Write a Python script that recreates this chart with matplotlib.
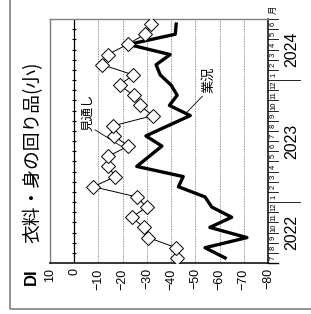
import numpy as np
import matplotlib.pyplot as plt
import matplotlib.transforms as mtransforms
from matplotlib.patches import Rectangle

plt.rcParams['font.family'] = ['Noto Sans CJK JP', 'DejaVu Sans']

# months: Jul 2022 .. Jun 2024
month_labels = ['7', '8', '9', '10', '11', '12',
                '1', '2', '3', '4', '5', '6', '7', '8', '9', '10', '11', '12',
                '1', '2', '3', '4', '5', '6']
years = ['2022', '2023', '2024']
year_spans = [(0, 5), (6, 17), (18, 23)]

# 業況 (business conditions DI)
gyokyo = [-62.3, -54, -71.3, -56, -65, -56.8, -54, -43, -45, -25.8, -31, -36.2,
          -29.6, -38.7, -47.9, -39.3, -42.5, -40, -35.5, -33.8, -39.6, -22.4,
          -41.7, -42.1]
# 見通し (outlook DI)
mitoshi = [-42.6, -42.1, -30.6, -28.8, -23.8, -29.9, -25.8, -7.9, -16.9, -14.1,
           -14.1, -22.3, -16.5, -16.2, -32.5, -27.0, -24.5, -18.7, -24.4, -11.6,
           -13.8, -22.0, -29.2, -31.9]

di_ticks = [10, 0, -10, -20, -30, -40, -50, -60, -70, -80]

W, H = 311, 314
fig = plt.figure(figsize=(W / 100, H / 100), dpi=100)
ax = fig.add_axes([50 / W, 51 / H, 218 / W, 244 / H])

idx = np.arange(len(month_labels))

# outer frame
fig.patches.append(Rectangle((10 / W, 5 / H), 1.2, 1.2, transform=fig.transFigure,
                             fill=False, edgecolor='#808080', lw=1.2))

for v in di_ticks[2:-1]:
    ax.axvline(v, color='#777777', lw=0.6, ls=(0, (1, 1)), zorder=1)
ax.axvline(0, color='black', lw=0.9, zorder=1)
ax.hlines(np.arange(0.5, 23, 1), 0.9, -0.9, color='black', lw=0.8, zorder=1)

ax.plot(gyokyo, idx, color='black', lw=2.4, zorder=3)
ax.plot(mitoshi, idx, color='black', lw=0.7, marker='D', ms=7,
        mfc='white', mec='black', mew=0.7, zorder=4)

ax.set_xlim(10, -80)
ax.set_ylim(-0.5, 23.5)
ax.set_xticks([])
ax.set_yticks([])
for s in ['left', 'top']:
    ax.spines[s].set_color('#808080')
    ax.spines[s].set_linewidth(1.0)
for s in ['bottom', 'right']:
    ax.spines[s].set_color('black')
    ax.spines[s].set_linewidth(1.1)

# DI tick labels below the plot
num_font = ['Liberation Sans', 'DejaVu Sans']
for v in di_ticks:
    lab = str(v) if v >= 0 else '\u2212' + str(-v)
    ax.text(v, -0.022, lab, transform=ax.get_xaxis_transform(), rotation=90,
            ha='center', va='top', fontsize=9, family=num_font)
ax.text(-0.085, -0.02, 'DI', transform=ax.transAxes, rotation=90,
        ha='center', va='top', fontsize=12, fontweight='bold', family=num_font)

# month / year band on the right
tr = mtransforms.blended_transform_factory(ax.transAxes, ax.transData)
m_right = (278 - 50) / 218
y_right = (300 - 50) / 218
ax.plot([1, m_right], [-0.5, -0.5], color='black', lw=1.0, transform=tr, clip_on=False)
for b in np.arange(0.5, 24, 1):
    xr = y_right if b in (5.5, 17.5) else m_right
    ax.plot([1, xr], [b, b], color='black', lw=0.6, transform=tr, clip_on=False)
for i, m in enumerate(month_labels):
    ax.text((273.5 - 50) / 218, i, m, transform=tr, rotation=90, ha='center',
            va='center', fontsize=5.5, family=num_font)
for yr, (a, b) in zip(years, year_spans):
    ax.text((292 - 50) / 218, (a + b) / 2, yr, transform=tr, rotation=90,
            ha='center', va='center', fontsize=11.5, family=num_font)
ax.text((273 - 50) / 218, 24.4, '月', transform=tr, rotation=90, ha='center',
        va='center', fontsize=6)

# series labels
ax.text(-5.7, 14.35, '見通し', rotation=90, ha='center', va='center', fontsize=9)
ax.plot([-8.6, -20.6], [12.6, 10.8], color='black', lw=0.6, zorder=2)
ax.text(-55.7, 17.5, '業況', rotation=90, ha='center', va='center', fontsize=9.5)
ax.plot([-52.9, -46.2], [15.9, 14.25], color='black', lw=0.6, zorder=2)

# title
fig.text(33 / W, (H - 243) / H, '衣料・身の回り品(小)', rotation=90,
         ha='center', va='bottom', fontsize=13.5)

fig.savefig('out.png', dpi=100)
